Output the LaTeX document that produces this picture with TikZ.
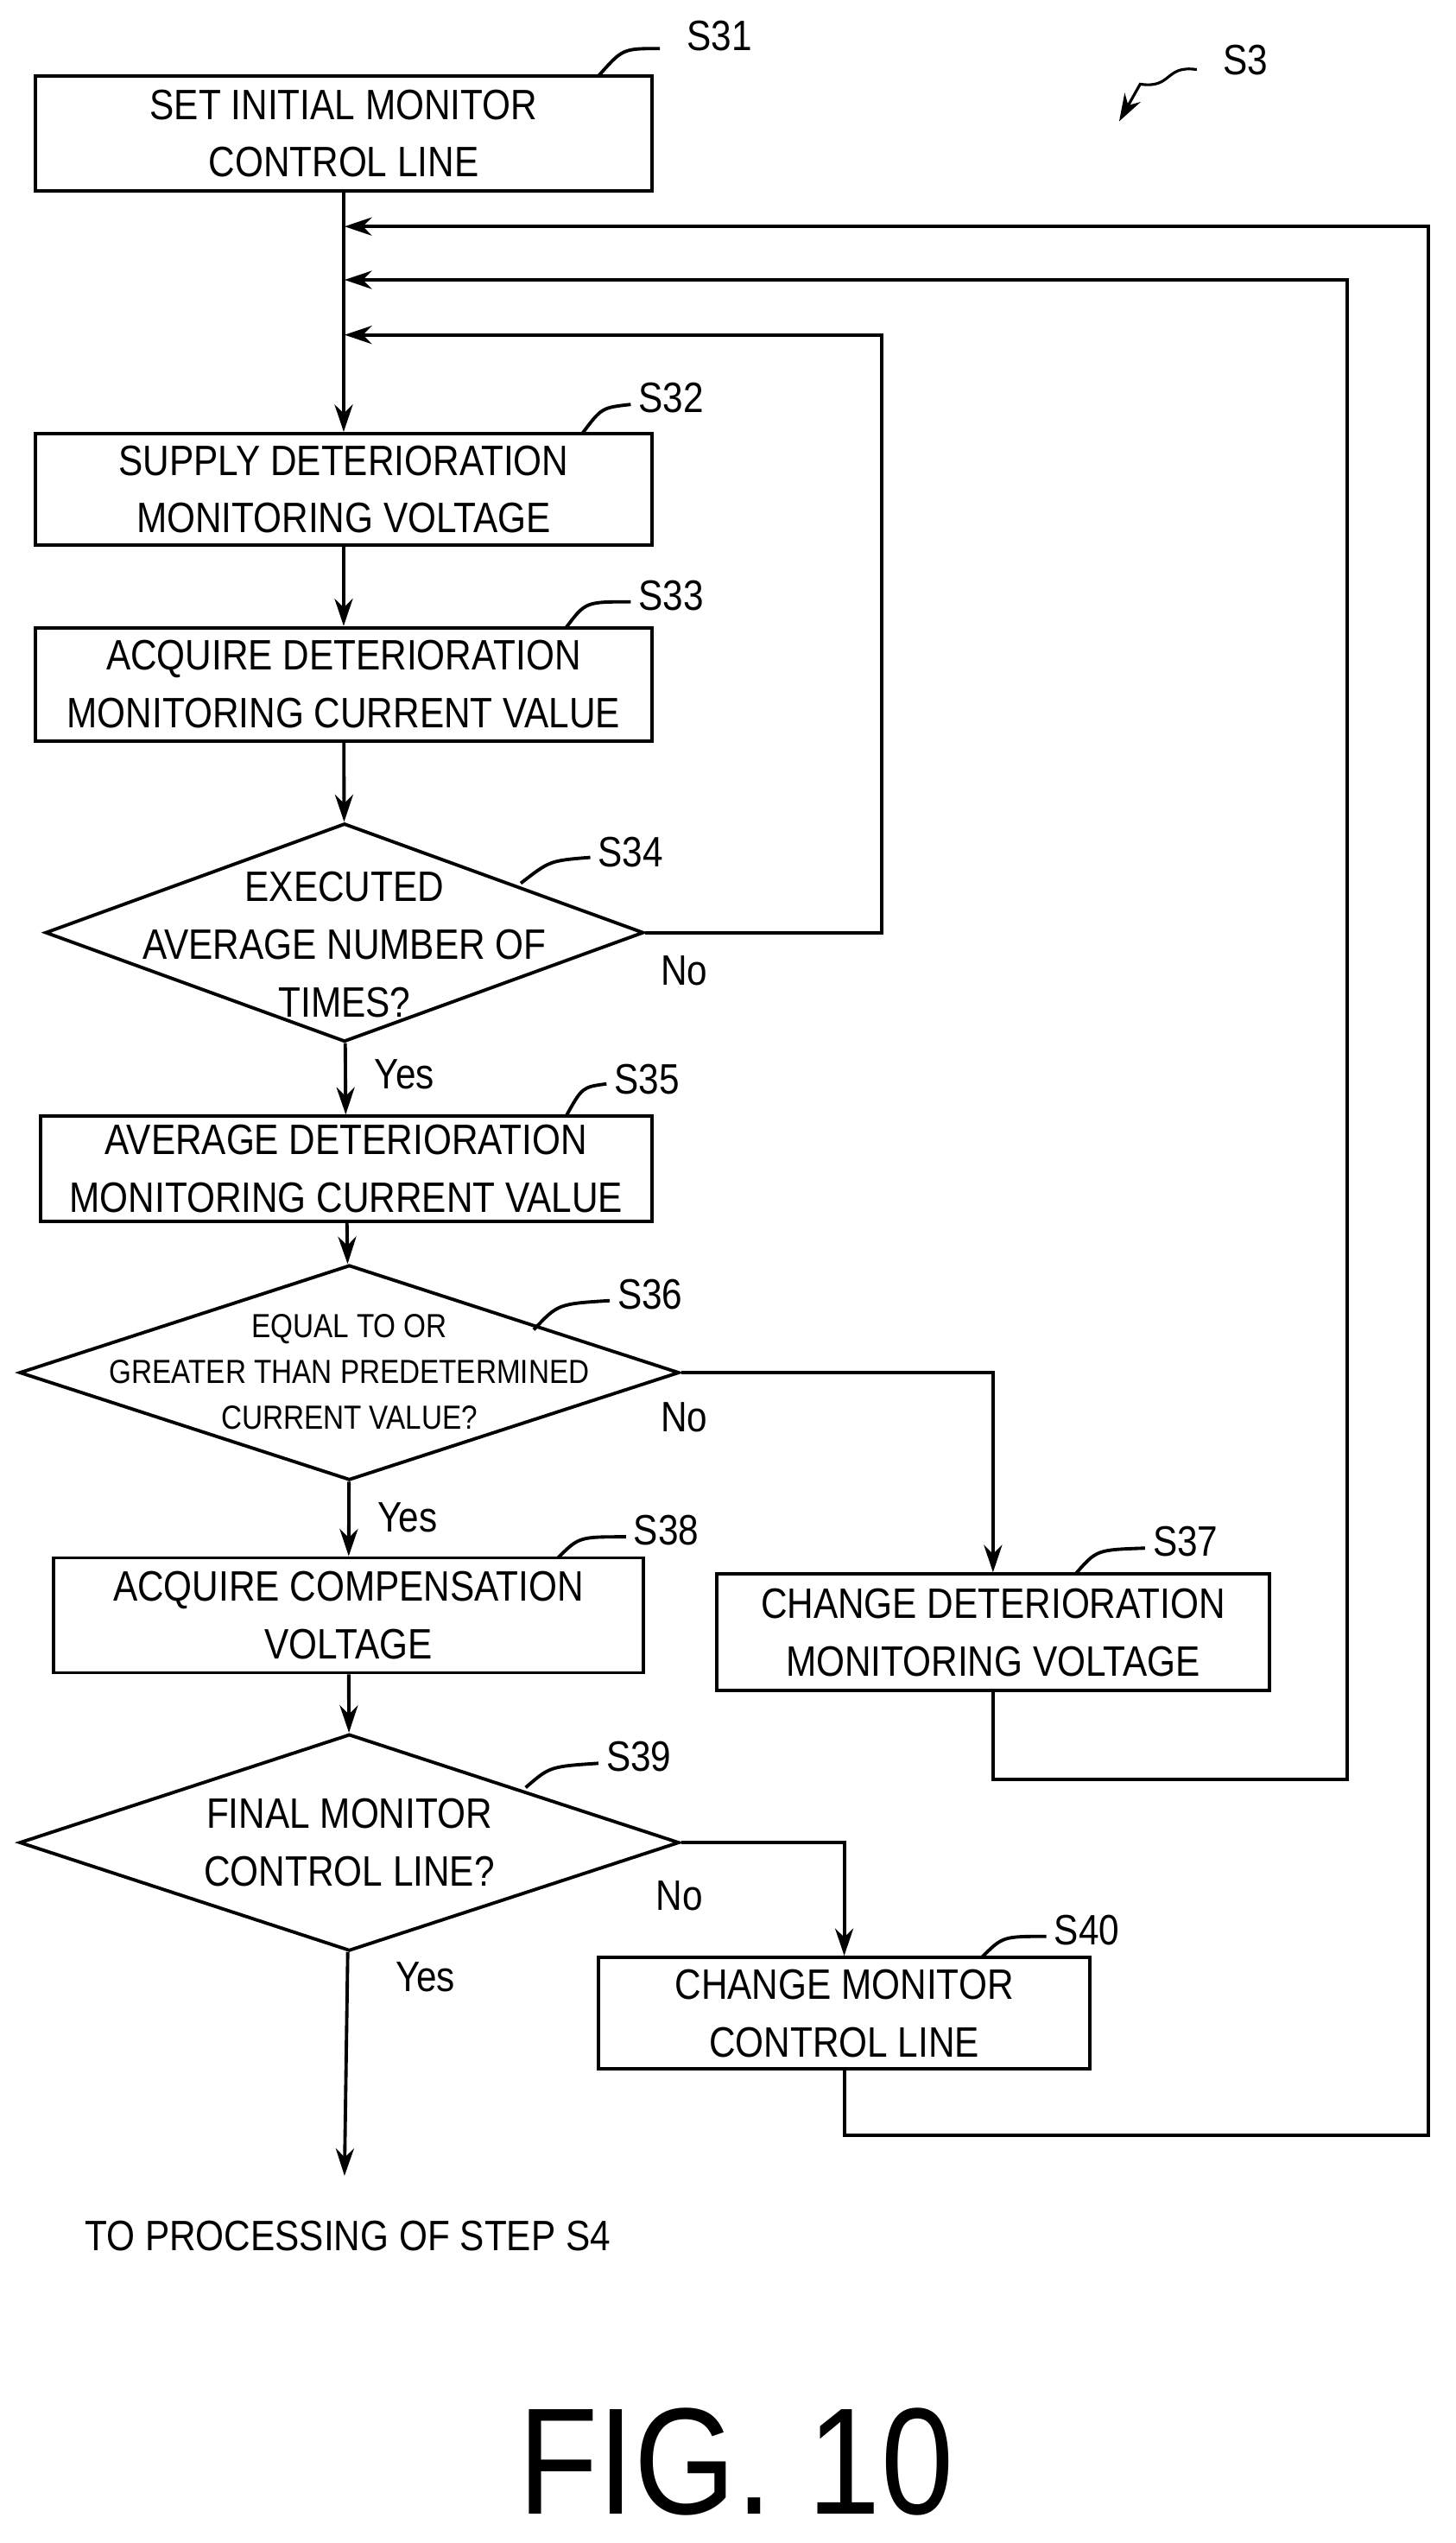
\documentclass[tikz,border=0pt]{standalone}
\usepackage{fontspec}
\setmainfont{Liberation Sans}[FakeStretch=0.86]
\usetikzlibrary{arrows.meta,shapes.geometric,positioning}
\newcommand\px{0.01873cm}
\begin{document}
\begin{tikzpicture}[
        x=0.01873cm, y=-0.01873cm,
        every path/.style={line width=1.1pt},
        box/.style={draw, align=center, inner sep=0pt, font=\fontsize{14}{19}\selectfont},
        decision/.style={draw, diamond, inner sep=0pt},
        txt/.style={align=center, font=\fontsize{14}{19}\selectfont},
        small/.style={align=center, font=\fontsize{11}{15}\selectfont},
        steplbl/.style={font=\fontsize{14}{17}\selectfont},
        arr/.style={-{Stealth[length=9pt,width=6pt]}}
    ]
    \useasboundingbox (0,0) rectangle (900,1572);

    % Nodes
    \node (s31)[box, minimum width=381*\px, minimum height=71*\px] at (212.5,82.5) {SET INITIAL MONITOR\\CONTROL LINE};
    \node (s32)[box, minimum width=381*\px, minimum height=69*\px] at (212.5,302.5) {SUPPLY DETERIORATION\\MONITORING VOLTAGE};
    \node (s33)[box, minimum width=381*\px, minimum height=70*\px] at (212.5,423) {ACQUIRE DETERIORATION\\MONITORING CURRENT VALUE};
    \node (s34)[decision, minimum width=370*\px, minimum height=135*\px] at (213,576.5) {};
    \node[txt] at (213,584) {EXECUTED\\AVERAGE NUMBER OF\\TIMES?};
    \node (s35)[box, minimum width=378*\px, minimum height=65*\px] at (214,722.5) {AVERAGE DETERIORATION\\MONITORING CURRENT VALUE};
    \node (s36)[decision, minimum width=408*\px, minimum height=133*\px] at (216,848.5) {};
    \node[small] at (216,848) {EQUAL TO OR\\GREATER THAN PREDETERMINED\\CURRENT VALUE?};
    \node (s37)[box, minimum width=342*\px, minimum height=72*\px] at (614,1009) {CHANGE DETERIORATION\\MONITORING VOLTAGE};
    \node (s38)[box, minimum width=365*\px, minimum height=71*\px] at (215.5,998.5) {ACQUIRE COMPENSATION\\VOLTAGE};
    \node (s39)[decision, minimum width=408*\px, minimum height=134*\px] at (216,1139) {};
    \node[txt] at (216,1139) {FINAL MONITOR\\CONTROL LINE?};
    \node (s40)[box, minimum width=304*\px, minimum height=69*\px] at (522,1244.5) {CHANGE MONITOR\\CONTROL LINE};
    \node (end)[txt] at (215,1382) {TO PROCESSING OF STEP S4};
    \node (fig)[font=\fontsize{50}{56}\selectfont] at (455,1522) {FIG. 10};

    % Junctions
    \coordinate (j1) at (213,140);
    \coordinate (j2) at (213,173);
    \coordinate (j3) at (213,207);
    \coordinate (e1) at (213,1345);

    % Step labels
    \node[steplbl] (l31) at (445,22) {S31};
    \draw (370,47) .. controls (385,30) .. (408,30);
    \node[steplbl] (l3) at (770,37) {S3};
    \draw[arr, line width=0.9pt] (740,43) .. controls (720,40) and (725,55) .. (705,52) -- (692,75);
    \node[steplbl] (l32) at (415,246) {S32};
    \draw (360,268) .. controls (372,252) .. (390,250);
    \node[steplbl] (l33) at (415,368) {S33};
    \draw (350,388) .. controls (362,372) .. (390,372);
    \node[steplbl] (l34) at (390,527) {S34};
    \draw (322,546) .. controls (340,532) .. (365,530);
    \node[steplbl] (l35) at (400,667) {S35};
    \draw (350,690) .. controls (360,672) .. (375,670);
    \node[steplbl] (l36) at (402,800) {S36};
    \draw (330,822) .. controls (345,806) .. (377,804);
    \node[steplbl] (l37) at (733,953) {S37};
    \draw (665,973) .. controls (678,958) .. (708,957);
    \node[steplbl] (l38) at (412,946) {S38};
    \draw (345,963) .. controls (358,950) .. (387,950);
    \node[steplbl] (l39) at (395,1086) {S39};
    \draw (325,1105) .. controls (340,1092) .. (370,1090);
    \node[steplbl] (l40) at (672,1193) {S40};
    \draw (607,1210) .. controls (620,1197) .. (647,1197);

    \node[steplbl] at (423,600) {No};
    \node[steplbl] at (250,664) {Yes};
    \node[steplbl] at (423,876) {No};
    \node[steplbl] at (252,938) {Yes};
    \node[steplbl] at (420,1172) {No};
    \node[steplbl] at (263,1222) {Yes};

    % Edges
    \draw[arr] (s31) -- (s32);
    \draw[arr] (s32) -- (s33);
    \draw[arr] (s33) -- (s34);
    \draw[arr] (s34) -- (s35);
    \draw[arr] (s35) -- (s36);
    \draw[arr] (s36) -- (s38);
    \draw[arr] (s38) -- (s39);
    \draw[arr] (s39) -- (e1);
    \draw[arr] (s34.east) -| (545,207) -- (j3);
    \draw[arr] (s36.east) -| (s37.north);
    \draw[arr] (s37.south) |- (833,1100) |- (j2);
    \draw[arr] (s39.east) -| (s40.north);
    \draw[arr] (s40.south) |- (883,1320) |- (j1);

\end{tikzpicture}
\end{document}
